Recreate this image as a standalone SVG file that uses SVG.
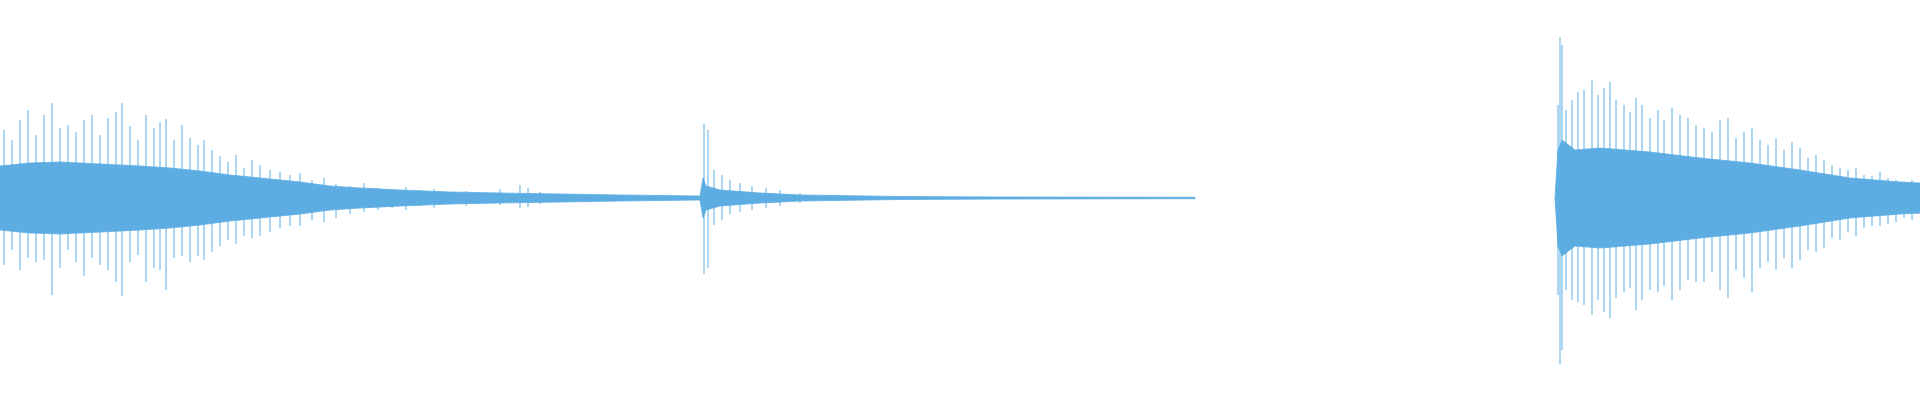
<svg xmlns="http://www.w3.org/2000/svg" width="1920" height="400" viewBox="0 0 1920 400">
<style>.core{fill:#5dade2;stroke:#5dade2;stroke-width:0.8}.sp{fill:none;stroke:#5dade2;stroke-width:1}</style>
<rect width="1920" height="400" fill="#fff"/>
<path class="core" d="M0 166 L30 163 L60 162 L100 164 L140 166 L170 168 L200 171 L230 175 L260 178 L300 182 L330 186 L360 188 L400 190 L450 192 L500 193 L560 194 L620 195 L700 196 L703 178 L706 186 L720 190 L760 193 L800 195 L900 196.5 L1000 197 L1195 197.3 L1195 198.7 L1000 199 L900 199.5 L800 201 L760 203 L720 206 L706 210 L703 218 L700 200 L620 201 L560 202 L500 203 L450 204 L400 206 L360 208 L330 210 L300 214 L260 218 L230 221 L200 225 L170 228 L140 230 L100 232 L60 234 L30 233 L0 230 Z"/>
<path class="core" d="M1555 198 L1558 150 L1562 140 L1575 150 L1600 148 L1650 152 L1700 158 L1750 163 L1800 170 L1850 178 L1900 182 L1920 183 L1920 213 L1900 214 L1850 218 L1800 226 L1750 233 L1700 238 L1650 244 L1600 248 L1575 246 L1562 256 L1558 246 Z"/>
<path class="sp" d="M4 130V265 M12 140V250 M20 120V270 M28 110V258 M36 135V262 M44 115V260 M52 103V295 M60 128V268 M68 125V250 M76 132V262 M84 120V276 M92 115V258 M100 135V265 M108 118V270 M116 112V282 M122 103V296 M130 126V262 M138 140V255 M146 115V282 M154 128V268 M160 122V270 M166 119V290 M174 140V258 M182 125V256 M190 138V262 M198 145V256 M204 140V260 M212 150V252 M220 156V246 M228 162V240 M236 155V244 M244 168V236 M252 160V238 M260 165V236 M270 170V232 M280 172V228 M290 175V226 M300 173V226 M312 180V220 M324 178V222 M336 184V218 M350 186V214 M364 183V212 M378 188V210 M392 190V208 M406 187V210 M420 190V206 M434 189V208 M450 192V204 M466 191V206 M480 193V203 M500 189V205 M520 185V208 M528 188V207 M540 192V204 M560 195V202 M600 196V200 M640 196V200 M680 196V200 M704 124V274 M708 130V268 M714 170V225 M722 175V220 M730 180V214 M740 183V212 M752 186V210 M766 188V208 M780 190V206 M800 193V203"/>
<path class="sp" d="M1558 105V295 M1560 37V364 M1562 45V350 M1566 110V290 M1572 100V300 M1578 92V302 M1584 90V305 M1592 80V315 M1598 95V300 M1604 88V312 M1610 82V318 M1616 100V298 M1624 105V292 M1630 112V288 M1636 98V310 M1642 105V300 M1650 118V290 M1658 110V292 M1664 120V286 M1672 108V300 M1680 115V290 M1688 118V280 M1696 125V282 M1704 128V282 M1712 132V272 M1720 120V290 M1728 118V298 M1736 138V270 M1744 132V278 M1752 128V292 M1760 140V268 M1768 145V262 M1776 138V270 M1784 150V258 M1792 142V268 M1800 148V260 M1808 158V250 M1816 155V252 M1824 160V248 M1832 165V238 M1840 168V240 M1848 170V232 M1856 168V236 M1864 175V228 M1872 176V226 M1880 172V226 M1888 178V224 M1896 180V222 M1904 182V218 M1912 180V220 M1918 184V214"/>
</svg>
